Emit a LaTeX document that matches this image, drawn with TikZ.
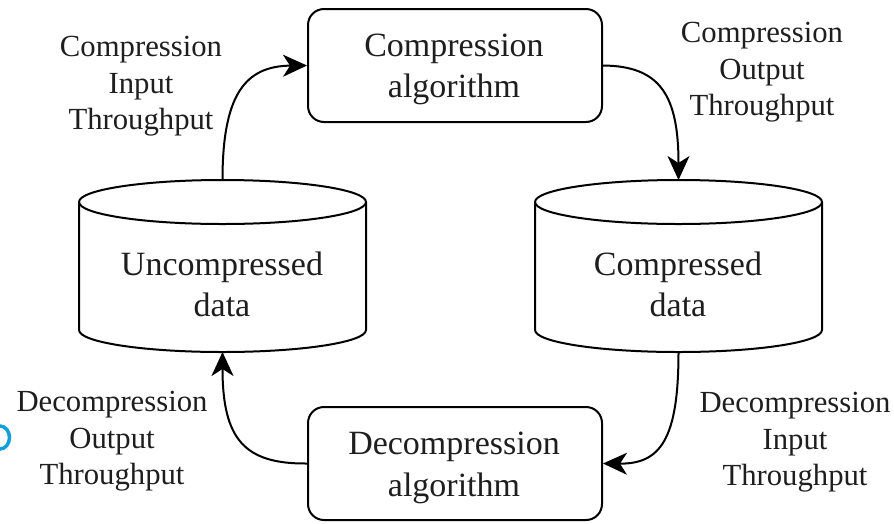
\documentclass[tikz,border=0pt]{standalone}
\usepackage{fontspec}
\setmainfont{Liberation Serif}
\usetikzlibrary{arrows.meta}
\definecolor{ink}{HTML}{1E1E1E}
\definecolor{blueart}{HTML}{139FDA}
\newcommand{\mystrut}{\rule[-0.3\baselineskip]{0pt}{\baselineskip}}
\begin{document}
\begin{tikzpicture}[x=1pt,y=-1pt,
  line width=2pt,
  conn/.style={-{Stealth[length=24pt,width=22pt,inset=7pt]}, line width=2pt},
  algbox/.style={draw, rounded corners=16pt, minimum width=294pt, minimum height=113pt, inner sep=0pt},
  boxtext/.style={align=center, inner sep=0pt, text=ink, font=\fontsize{34}{41.5}\selectfont},
  lbl/.style={align=center, inner sep=0pt, text=ink, font=\fontsize{30.7}{36.5}\selectfont},
  cyltext/.style={align=center, inner sep=0pt, text=ink, font=\fontsize{34}{41}\selectfont},
  cylline/.style={line width=2pt}]
\useasboundingbox (0,0) rectangle (894,523);

% algorithm boxes
\node[algbox] (comp) at (455,65.5) {};
\node[boxtext] (comptext) at (454,68.5) {\mystrut Compression\\\mystrut algorithm};
\node[algbox] (decomp) at (455,463.5) {};
\node[boxtext] (decomptext) at (454,467) {\mystrut Decompression\\\mystrut algorithm};

% uncompressed cylinder
\draw[cylline] (222.5,202) ellipse [x radius=143.5, y radius=22];
\draw[cylline] (79,202) -- (79,330) arc [start angle=180, end angle=0, x radius=143.5, y radius=22] -- (366,202);
\coordinate (utop) at (222.5,180);
\coordinate (ubot) at (222.5,352);
\node[cyltext] (utext) at (222,288) {\mystrut Uncompressed\\\mystrut data};

% compressed cylinder
\draw[cylline] (678.5,202) ellipse [x radius=143.5, y radius=22];
\draw[cylline] (535,202) -- (535,330) arc [start angle=180, end angle=0, x radius=143.5, y radius=22] -- (822,202);
\coordinate (ctop) at (678.5,180);
\coordinate (cbot) at (678.5,352);
\node[cyltext] (ctext) at (678,288) {\mystrut Compressed\\\mystrut data};

% labels
\node[lbl] (cin) at (141,86) {\mystrut Compression\\\mystrut Input\\\mystrut Throughput};
\node[lbl] (cout) at (762,72) {\mystrut Compression\\\mystrut Output\\\mystrut Throughput};
\node[lbl] (din) at (795,442) {\mystrut Decompression\\\mystrut Input\\\mystrut Throughput};
\node[lbl] (dout) at (112,441) {\mystrut Decompression\\\mystrut Output\\\mystrut Throughput};

% connectors
\draw[conn] (utop) .. controls (222.5,95) and (245,66) .. (comp.west);
\draw[conn] (comp.east) .. controls (660,66) and (678.5,95) .. (ctop);
\draw[conn] (cbot) .. controls (678.5,440) and (660,464) .. (decomp.east);
\draw[conn] (decomp.west) .. controls (245,464) and (222.5,440) .. (ubot);

% partial blue glyph at the left edge
\begin{scope}
\clip (0,400) rectangle (20,470);
\draw[blueart, line width=3.5pt] (0,437.5) ellipse [x radius=9.5, y radius=11.5];
\end{scope}
\end{tikzpicture}
\end{document}
